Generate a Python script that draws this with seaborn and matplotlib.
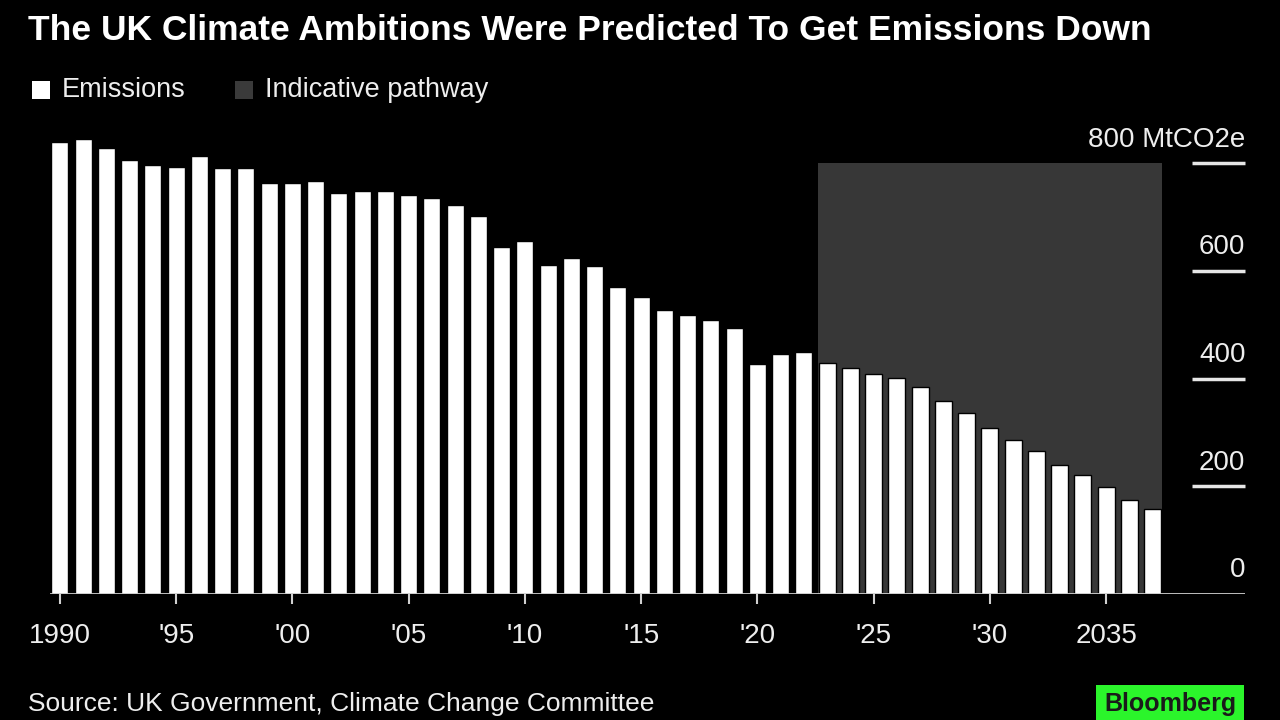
import numpy as np
import pandas as pd
import matplotlib.pyplot as plt
import seaborn as sns
from matplotlib.patches import Rectangle

# Emisiones anuales (MtCO2e)
years = list(range(1990, 2038))
emissions = [839, 846, 828, 807, 796, 793, 813, 791, 791, 763,
             763, 767, 744, 748, 748, 742, 735, 722, 702, 644,
             655, 611, 624, 609, 570, 551, 527, 518, 509, 494,
             427, 445, 449, 429, 419, 408, 401, 384, 358, 336,
             308, 286, 265, 239, 221, 199, 174, 158]

# Periodo de la trayectoria indicativa
pathway_start = 2023
pathway_end = 2037
pathway_top = 800

tick_years = [1990, 1995, 2000, 2005, 2010, 2015, 2020, 2025, 2030, 2035]
tick_labels = ["1990", "'95", "'00", "'05", "'10", "'15", "'20", "'25", "'30", "2035"]
y_levels = [0, 200, 400, 600, 800]
y_labels = ["0", "200", "400", "600", "800 MtCO2e"]

title = "The UK Climate Ambitions Were Predicted To Get Emissions Down"
source = "Source: UK Government, Climate Change Committee"

df = pd.DataFrame({"year": years, "emissions": emissions})

sns.set_style("dark")
plt.rcParams["font.family"] = ["Liberation Sans", "DejaVu Sans"]

fig = plt.figure(figsize=(12.8, 7.2), dpi=100, facecolor="black")
ax = fig.add_axes([0.039, 0.175, 0.934, 0.658])
ax.set_facecolor("black")

x_left, x_right = 1989.57, 2040.99

# Zona sombreada (trayectoria indicativa)
ax.add_patch(Rectangle((pathway_start - 0.4, 0), pathway_end - pathway_start + 0.8, pathway_top,
                       facecolor="#373737", edgecolor="none", zorder=0))

sns.barplot(data=df, x="year", y="emissions", native_scale=True, color="white",
            width=0.73, edgecolor="black", linewidth=1.0, saturation=1, ax=ax, zorder=2)

ax.set_xlim(x_left, x_right)
ax.set_ylim(0, 880)
ax.set_xlabel("")
ax.set_ylabel("")
ax.grid(False)
for s in ax.spines.values():
    s.set_visible(False)

# Linea base
ax.axhline(0, color="#d0d0d0", lw=2, zorder=3)

ax.set_xticks(tick_years)
ax.set_xticklabels(tick_labels)
ax.tick_params(axis="x", bottom=True, colors="#d0d0d0", length=7, width=1.5, pad=14,
               labelsize=20, labelcolor="#eeeeee")
ax.set_yticks([])

# Eje y a la derecha: lineas cortas con etiqueta encima
for val, lab in zip(y_levels, y_labels):
    if val > 0:
        ax.plot([2038.7, x_right], [val, val], color="#e6e6e6", lw=2.5,
                solid_capstyle="butt", clip_on=False, zorder=3)
    ax.annotate(lab, xy=(x_right, val), xytext=(0, 12), textcoords="offset points",
                ha="right", va="baseline", fontsize=20, color="#eeeeee",
                annotation_clip=False)

# Titulo
fig.text(0.022, 0.958, title, fontsize=25.5, fontweight="bold", color="white",
         ha="left", va="center")

# Leyenda
fig.patches.append(Rectangle((32 / 1280, 1 - 99 / 720), 18 / 1280, 18 / 720,
                             transform=fig.transFigure, facecolor="white", edgecolor="none"))
fig.text(62 / 1280, 1 - 90 / 720, "Emissions", fontsize=19.5, color="#eeeeee",
         ha="left", va="center")
fig.patches.append(Rectangle((235 / 1280, 1 - 99 / 720), 18 / 1280, 18 / 720,
                             transform=fig.transFigure, facecolor="#3a3a3a", edgecolor="none"))
fig.text(265 / 1280, 1 - 90 / 720, "Indicative pathway", fontsize=19.5, color="#eeeeee",
         ha="left", va="center")

# Fuente y logo
fig.text(28 / 1280, 1 - 704 / 720, source, fontsize=19, color="#eeeeee",
         ha="left", va="center")
fig.text(1170 / 1280, 1 - 704 / 720, "Bloomberg", fontsize=18, color="#1a1a1a",
         fontweight="bold", ha="center", va="center",
         bbox=dict(boxstyle="square,pad=0.3", facecolor="#2bf52b", edgecolor="none"))

fig.savefig("out.png", dpi=100, facecolor="black")
